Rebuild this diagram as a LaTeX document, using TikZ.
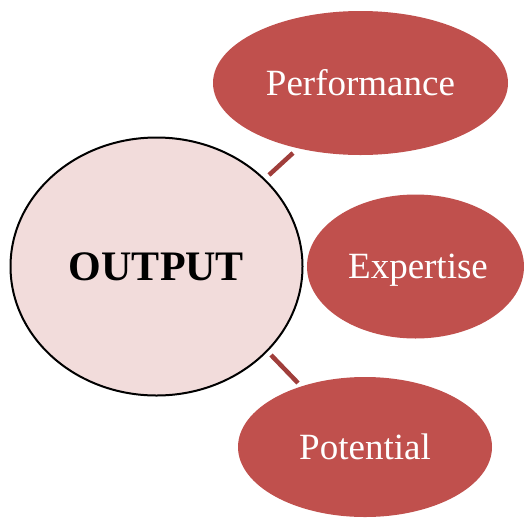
\documentclass[tikz,border=0pt]{standalone}
\usepackage{fontspec}
\setmainfont{Liberation Serif}
\usetikzlibrary{shapes.geometric}
\definecolor{redfill}{HTML}{C0504D}
\definecolor{pinkfill}{HTML}{F2DCDB}
\definecolor{linkred}{HTML}{A03E3B}
\tikzset{
  hub/.style={ellipse, draw=black, line width=2pt, fill=pinkfill, inner sep=0pt},
  leaf/.style={ellipse, fill=redfill, inner sep=0pt, text=white, font=\fontsize{37}{44}\selectfont},
  link/.style={draw=linkred, line width=4.5pt}
}
\begin{document}
\begin{tikzpicture}[x=1pt,y=1pt]
\useasboundingbox (0,0) rectangle (524,-517);
\node[hub, minimum width=292pt, minimum height=258pt, font=\fontsize{42}{50}\selectfont\bfseries] (out) at (156.5,-266.5) {OUTPUT};
\node[leaf, minimum width=295pt, minimum height=144pt] (perf) at (360.5,-83) {Performance};
\node[leaf, minimum width=217pt, minimum height=144pt, text depth=0pt] (exp) at (415.5,-266.5) {\hspace*{5pt}Expertise};
\node[leaf, minimum width=254pt, minimum height=140pt] (pot) at (365,-447) {Potential};
\coordinate (a1) at (269,-175);
\coordinate (a2) at (293,-153);
\coordinate (b1) at (271,-355);
\coordinate (b2) at (298,-383);
\draw[link] (a1) -- (a2);
\draw[link] (b1) -- (b2);
\end{tikzpicture}
\end{document}
